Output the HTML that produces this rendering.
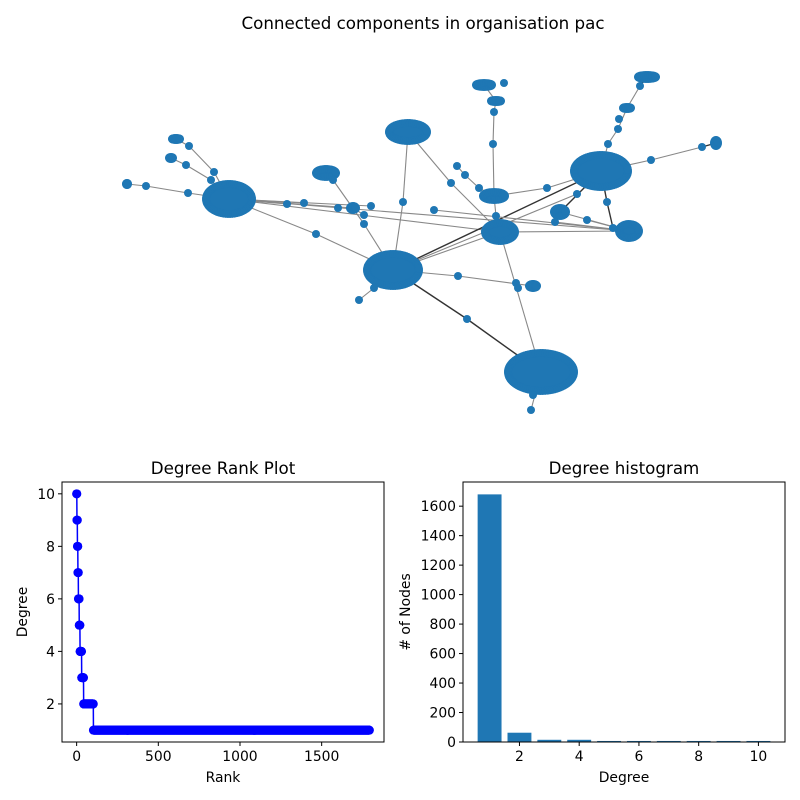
<!DOCTYPE html>
<html><head><meta charset="utf-8"><style>
body{margin:0;background:#fff}
svg{display:block;font-family:"DejaVu Sans","Liberation Sans",sans-serif}
</style></head><body>
<svg id="fig" width="800" height="800" viewBox="0 0 800 800" xmlns="http://www.w3.org/2000/svg">
<rect width="800" height="800" fill="#fff"/>
<text x="423" y="29" font-size="16.7" text-anchor="middle">Connected components in organisation pac</text>
<g id="net"></g>
<g id="rank"></g>
<g id="hist"></g>
</svg>
<script>
// ---- chart data ----
const rankDegrees = [10,9,8,7,6,5,4,3,2,1];
const rankCounts = [2,3,3,3,5,5,10,12,60,1690];
const histDegrees = [1,2,3,4,5,6,7,8,9,10];
const histCounts = [1680,63,15,15,7,7,7,7,7,7];
const rankXTicks = [0,500,1000,1500];
const rankYTicks = [2,4,6,8,10];
const histXTicks = [2,4,6,8,10];
const histYTicks = [0,200,400,600,800,1000,1200,1400,1600];

// network layout data
const clusters = [[229,199,26,18],[393,270,29,19],[541,372,36,22],[601,171,30,19],[500,232,18,12],[408,132,22,12],[326,173,13,7],[494,196,14,7],[629,231,13,10],[647,77,12,5],[484,85,11,5],[496,101,8,4],[560,212,9,7],[533,286,7,5],[716,143,5,6],[176,139,7,4],[171,158,5,3],[127,184,3,4],[627,108,7,3],[353,208,6,5]];
const singles = [[146,186],[188,193],[189,146],[186,165],[214,172],[211,180],[287,204],[304,203],[338,208],[364,215],[364,224],[371,206],[316,234],[333,180],[403,202],[434,210],[451,183],[457,166],[465,175],[479,188],[493,144],[494,112],[504,83],[496,216],[458,276],[467,319],[374,288],[359,300],[516,283],[518,288],[531,410],[533,395],[547,188],[555,222],[577,194],[587,220],[607,202],[613,228],[608,144],[618,129],[619,119],[640,86],[651,160],[702,147]];
const edges = [
[127,184,146,186,0],[146,186,188,193,0],[188,193,229,199,0],[171,158,186,165,0],[186,165,211,180,0],[211,180,229,199,0],
[176,139,189,146,0],[189,146,214,172,0],[214,172,229,199,0],[229,199,287,204,0],[229,199,304,203,0],[229,199,353,208,0],
[229,199,371,206,0],[229,199,629,231,0],[229,199,500,232,0],[229,199,316,234,0],[316,234,393,270,0],[326,173,333,180,0],
[333,180,364,224,0],[364,224,393,270,0],[393,270,403,202,0],[403,202,408,132,0],[408,132,451,183,0],[451,183,500,232,0],
[393,270,374,288,0],[374,288,359,300,0],[393,270,458,276,0],[458,276,533,286,0],[393,270,467,319,1],[467,319,541,372,1],
[393,270,601,171,1],[393,270,500,232,0],[500,232,541,372,0],[541,372,531,410,0],[500,232,496,216,0],[496,216,494,196,0],
[494,196,493,144,0],[493,144,494,112,0],[494,112,496,101,0],[496,101,484,85,0],[457,166,465,175,0],[465,175,479,188,0],
[479,188,494,196,0],[494,196,547,188,0],[547,188,601,171,0],[500,232,629,231,0],[560,212,601,171,1],[601,171,607,202,1],
[607,202,613,228,1],[613,228,629,231,1],[601,171,651,160,0],[651,160,702,147,0],[702,147,716,143,1],[601,171,608,144,0],
[608,144,618,129,0],[618,129,627,108,0],[627,108,640,86,0],[640,86,647,77,1],[555,222,629,231,0],[587,220,629,231,0],
[560,212,629,231,0],[434,210,629,231,0],[364,215,353,208,0],[393,270,577,194,0]];

const NS = "http://www.w3.org/2000/svg";
function mk(parent, tag, attrs){const e=document.createElementNS(NS,tag);for(const k in attrs)e.setAttribute(k,attrs[k]);parent.appendChild(e);return e;}
const blue="#1f77b4";

// ---- network ----
const net=document.getElementById('net');
edges.forEach(d=>{
  const l=mk(net,'line',{x1:d[0],y1:d[1],x2:d[2],y2:d[3],stroke:d[4]?'#333':'#888','stroke-width':d[4]?1.4:1.1});
  
  
});
clusters.forEach(c=>{
  const g=mk(net,'g',{});
  
  
  const ax=Math.max(1,c[2]-3), ay=Math.max(1,c[3]-3);
  mk(g,'ellipse',{cx:c[0],cy:c[1],rx:ax+1,ry:ay+1,fill:blue});
  const n=Math.max(12,Math.round((c[2]+c[3])*1.5));
  for(let i=0;i<n;i++){const a=i/n*Math.PI*2;
    mk(g,'circle',{cx:c[0]+Math.cos(a)*ax,cy:c[1]+Math.sin(a)*ay,r:4,fill:blue});}
});
singles.forEach(p=>{
  const c=mk(net,'circle',{cx:p[0],cy:p[1],r:4,fill:blue});
  
  
});

// ---- axes helper ----
function axisText(g,x,y,t,anchor,name){const e=mk(g,'text',{x:x,y:y,'font-size':13.9,'text-anchor':anchor});e.textContent=t;return e;}

// ---- rank plot ----
const rk=document.getElementById('rank');
const RL=62,RR=384,RT=482,RB=742;
let total=0;rankCounts.forEach(v=>total+=v);
const rx0=-0.05*(total-1),rx1=(total-1)*1.05;
const ry0=1-0.45*(rankDegrees[0]-1)/9, ry1=rankDegrees[0]+0.45*(rankDegrees[0]-1)/9;
const rX=v=>RL+(v-rx0)/(rx1-rx0)*(RR-RL);
const rY=v=>RB-(v-ry0)/(ry1-ry0)*(RB-RT);
const pts=[];let idx=0;
rankDegrees.forEach((d,i)=>{for(let k=0;k<rankCounts[i];k++){pts.push([idx,d]);idx++;}});
const line=mk(rk,'polyline',{points:pts.map(p=>rX(p[0])+','+rY(p[1])).join(' '),fill:'none',stroke:'#0000ff','stroke-width':1.5});


const mg=mk(rk,'g',{fill:'#0000ff'});


pts.forEach(p=>mk(mg,'circle',{cx:rX(p[0]),cy:rY(p[1]),r:4.5}));
const rf=mk(rk,'rect',{x:RL,y:RT,width:RR-RL,height:RB-RT,fill:'none',stroke:'#000','stroke-width':1});

rankXTicks.forEach(t=>{const x=rX(t);mk(rk,'line',{x1:x,y1:RB,x2:x,y2:RB+4,stroke:'#000'});axisText(rk,x,RB+19,String(t),'middle','x-tick-label');});
rankYTicks.forEach(t=>{const y=rY(t);mk(rk,'line',{x1:RL,y1:y,x2:RL-4,y2:y,stroke:'#000'});axisText(rk,RL-7,y+5,String(t),'end','y-tick-label');});
let e=mk(rk,'text',{x:(RL+RR)/2,y:474,'font-size':16.7,'text-anchor':'middle'});e.textContent='Degree Rank Plot';
axisText(rk,(RL+RR)/2,782,'Rank','middle','x-axis-title');
e=axisText(rk,0,0,'Degree','middle','y-axis-title');e.setAttribute('transform','translate(27,612) rotate(-90)');

// ---- histogram ----
const hs=document.getElementById('hist');
const HL=463,HR=785,HT=482,HB=742;
const hx0=0.6-0.49,hx1=10.4+0.49,hy1=Math.max(...histCounts)*1.05;
const hX=v=>HL+(v-hx0)/(hx1-hx0)*(HR-HL);
const hY=v=>HB-v/hy1*(HB-HT);
histDegrees.forEach((d,i)=>{
  const b=mk(hs,'rect',{x:hX(d-0.4),y:hY(histCounts[i]),width:hX(d+0.4)-hX(d-0.4),height:HB-hY(histCounts[i]),fill:blue});
  
  
});
const hf=mk(hs,'rect',{x:HL,y:HT,width:HR-HL,height:HB-HT,fill:'none',stroke:'#000','stroke-width':1});

histXTicks.forEach(t=>{const x=hX(t);mk(hs,'line',{x1:x,y1:HB,x2:x,y2:HB+4,stroke:'#000'});axisText(hs,x,HB+19,String(t),'middle','x-tick-label');});
histYTicks.forEach(t=>{const y=hY(t);mk(hs,'line',{x1:HL,y1:y,x2:HL-4,y2:y,stroke:'#000'});axisText(hs,HL-7,y+5,String(t),'end','y-tick-label');});
e=mk(hs,'text',{x:(HL+HR)/2,y:474,'font-size':16.7,'text-anchor':'middle'});e.textContent='Degree histogram';
axisText(hs,(HL+HR)/2,782,'Degree','middle','x-axis-title');
e=axisText(hs,0,0,'# of Nodes','middle','y-axis-title');e.setAttribute('transform','translate(410,612) rotate(-90)');
</script>
</body></html>
